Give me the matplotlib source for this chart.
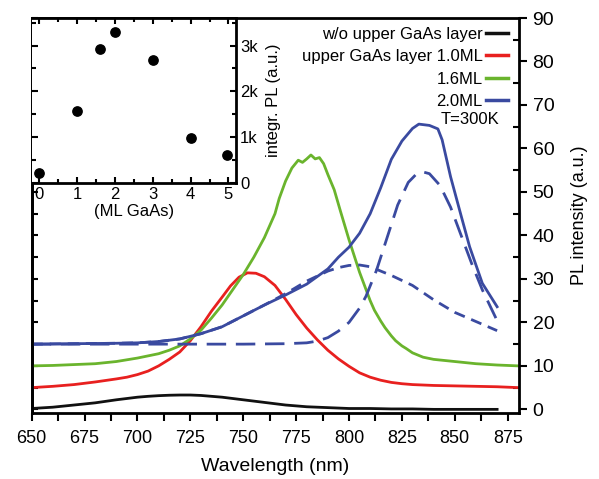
import matplotlib
matplotlib.use("Agg")
import matplotlib.pyplot as plt
from matplotlib.lines import Line2D
from matplotlib.ticker import MultipleLocator, FuncFormatter

plt.rcParams["font.family"] = ["Liberation Sans", "DejaVu Sans"]

# ---------------- PL spectra ----------------
wl_black = [650, 655, 660, 665, 670, 675, 680, 685, 690, 695, 700, 705, 710, 715,
            720, 725, 730, 735, 740, 745, 750, 755, 760, 765, 770, 775, 780, 785,
            790, 795, 800, 810, 820, 830, 840, 850, 860, 870]
pl_black = [0.2, 0.35, 0.5, 0.75, 1.0, 1.25, 1.5, 1.85, 2.2, 2.5, 2.8, 3.0, 3.15,
            3.25, 3.3, 3.3, 3.2, 3.0, 2.8, 2.5, 2.2, 1.9, 1.6, 1.3, 1.0, 0.8, 0.6,
            0.5, 0.4, 0.3, 0.2, 0.2, 0.1, 0.1, 0.0, 0.0, 0.0, 0.0]

wl_red = [650, 660, 670, 680, 690, 695, 700, 705, 710, 715, 720, 725, 730, 735,
          740, 744, 748, 752, 756, 760, 765, 770, 775, 780, 785, 790, 795, 800,
          805, 810, 815, 820, 825, 830, 840, 850, 860, 870, 880]
pl_red = [5.0, 5.3, 5.7, 6.3, 7.0, 7.4, 8.0, 8.8, 10.0, 11.5, 13.2, 15.8, 19.0,
          22.6, 25.8, 28.4, 30.4, 31.4, 31.3, 30.5, 28.5, 25.3, 21.8, 18.7, 16.0,
          13.6, 11.6, 9.9, 8.4, 7.4, 6.7, 6.2, 5.9, 5.7, 5.5, 5.4, 5.3, 5.2, 5.0]

wl_green = [650, 660, 670, 680, 690, 700, 705, 710, 715, 720, 725, 730, 735, 740,
            745, 750, 755, 760, 765, 767, 770, 773, 776, 778, 780, 782, 784, 786,
            788, 790, 793, 796, 800, 805, 810, 812, 815, 817, 820, 822, 825, 827,
            830, 835, 840, 850, 860, 870, 880]
pl_green = [10.0, 10.1, 10.3, 10.5, 11.0, 11.8, 12.3, 12.8, 13.6, 14.6, 16.2, 18.2,
            21.0, 24.0, 27.5, 31.0, 35.0, 39.5, 45.0, 48.5, 52.5, 55.5, 57.3, 56.8,
            57.6, 58.5, 57.6, 57.9, 56.5, 54.0, 50.5, 45.5, 39.0, 31.5, 25.0, 22.8,
            20.3, 18.8, 16.9, 15.8, 14.6, 14.0, 13.0, 12.0, 11.5, 11.0, 10.5, 10.2,
            10.0]

wl_blue = [650, 670, 690, 700, 710, 720, 730, 740, 750, 760, 770, 780, 790, 795,
           800, 805, 810, 815, 820, 825, 830, 833, 838, 842, 844, 848, 853, 857,
           863, 870]
pl_blue = [15.0, 15.1, 15.2, 15.3, 15.6, 16.2, 17.4, 19.0, 21.5, 24.0, 26.3, 28.8,
           32.3, 35.0, 37.3, 40.5, 45.0, 51.0, 57.5, 61.7, 64.6, 65.6, 65.3, 64.5,
           62.0, 53.5, 44.5, 37.4, 29.0, 23.6]

# two dashed 2.0ML components
wl_broad = [650, 670, 690, 700, 710, 720, 730, 740, 750, 760, 770, 780, 790, 795,
            800, 805, 810, 820, 830, 840, 850, 860, 870]
pl_broad = [15.0, 15.1, 15.2, 15.3, 15.6, 16.2, 17.4, 19.0, 21.5, 24.0, 26.6, 29.5,
            31.8, 32.6, 33.1, 33.2, 32.8, 30.8, 28.5, 25.2, 22.3, 20.2, 18.1]

wl_narrow = [650, 700, 750, 770, 780, 785, 790, 795, 800, 805, 808, 813, 818, 823,
             828, 832, 835, 838, 843, 848, 853, 858, 863, 870]
pl_narrow = [15.0, 15.0, 15.0, 15.1, 15.3, 15.7, 16.5, 18.0, 20.0, 23.3, 26.0, 32.0,
             39.5, 47.0, 52.2, 54.2, 54.6, 54.2, 51.5, 46.5, 40.0, 33.5, 27.5, 20.4]

labels = ["w/o upper GaAs layer", "upper GaAs layer 1.0ML", "1.6ML", "2.0ML"]

# ---------------- inset: integrated PL vs GaAs thickness ----------------
ml_gaas = [0, 1, 1.6, 2, 3, 4, 4.95]
integ_pl = [220, 1570, 2920, 3300, 2690, 980, 600]

C_BLACK = "#111111"
C_RED = "#e8201f"
C_GREEN = "#6ab42d"
C_BLUE = "#3a4aa0"
colors = [C_BLACK, C_RED, C_GREEN, C_BLUE]

fig = plt.figure(figsize=(5.99, 4.79), dpi=100)
ax = fig.add_axes([0.0529, 0.1372, 0.8141, 0.8252])

lw = 2.0
ax.plot(wl_black, pl_black, color=C_BLACK, lw=lw)
ax.plot(wl_red, pl_red, color=C_RED, lw=lw)
ax.plot(wl_green, pl_green, color=C_GREEN, lw=lw)
ax.plot(wl_blue, pl_blue, color=C_BLUE, lw=lw)
ax.plot(wl_broad, pl_broad, color=C_BLUE, lw=lw, ls=(0, (4, 2.5)))
ax.plot(wl_narrow, pl_narrow, color=C_BLUE, lw=lw, ls=(0, (7, 3.5)))

ax.set_xlim(650, 880.5)
ax.set_ylim(-0.9, 90)
ax.xaxis.set_major_locator(MultipleLocator(25))
ax.xaxis.set_minor_locator(MultipleLocator(12.5))
ax.yaxis.set_major_locator(MultipleLocator(10))
ax.yaxis.set_minor_locator(MultipleLocator(5))

ax.yaxis.tick_right()
ax.yaxis.set_label_position("right")
ax.tick_params(axis="x", which="major", direction="out", length=6, width=1.5,
               labelsize=13, top=False, pad=6)
ax.tick_params(axis="x", which="minor", direction="out", length=6, width=1.5, top=False)
ax.tick_params(axis="y", which="major", direction="out", length=6, width=1.5,
               labelsize=14, left=False, right=True)
ax.tick_params(axis="y", which="minor", direction="in", length=4, width=1.5,
               left=False, right=True)
for s in ax.spines.values():
    s.set_linewidth(2.0)

ax.set_xlabel("Wavelength (nm)", fontsize=14, labelpad=8)
ax.set_ylabel("PL intensity (a.u.)", fontsize=13, labelpad=12)

# inward ticks on left spine (no labels)
axl = ax.secondary_yaxis("left")
axl.yaxis.set_major_locator(MultipleLocator(5))
axl.tick_params(direction="in", length=4, width=1.5, labelleft=False)
axl.spines["left"].set_linewidth(2.0)

handles = [Line2D([], [], color=c, lw=2.5, ls="-") for c in colors]
leg = ax.legend(handles, labels, loc="upper right", bbox_to_anchor=(0.99, 0.995),
                frameon=False, markerfirst=False, fontsize=12, handlelength=1.3,
                handletextpad=0.2, labelspacing=0.45, borderaxespad=0.0)
ax.text(0.96, 0.742, "T=300K", transform=ax.transAxes, fontsize=12,
        ha="right", va="center")

# ---------------- inset ----------------
axi = fig.add_axes([0.0529, 0.618, 0.3411, 0.3444])
axi.scatter(ml_gaas, integ_pl, s=45, color="black", zorder=3)
axi.set_xlim(-0.2, 5.2)
axi.set_ylim(0, 3600)
axi.xaxis.set_major_locator(MultipleLocator(1))
axi.xaxis.set_minor_locator(MultipleLocator(0.5))
axi.yaxis.set_major_locator(MultipleLocator(1000))
axi.yaxis.set_minor_locator(MultipleLocator(500))
axi.yaxis.set_major_formatter(FuncFormatter(lambda v, p: "0" if v == 0 else f"{int(v/1000)}k"))
axi.yaxis.tick_right()
axi.yaxis.set_label_position("right")
axi.tick_params(axis="both", which="major", direction="in", length=4, width=1.5,
                labelsize=12, pad=3)
axi.tick_params(axis="both", which="minor", direction="in", length=3, width=1.5)
axi.tick_params(axis="y", which="both", left=True, right=True)
axi.tick_params(axis="x", which="both", top=True, bottom=True)
for s in axi.spines.values():
    s.set_linewidth(2.0)
axi.spines["left"].set_visible(False)
axi.set_xlabel("(ML GaAs)", fontsize=12, labelpad=1)
axi.set_ylabel("integr. PL (a.u.)", fontsize=12, labelpad=6)

fig.savefig("out.png", dpi=100)
